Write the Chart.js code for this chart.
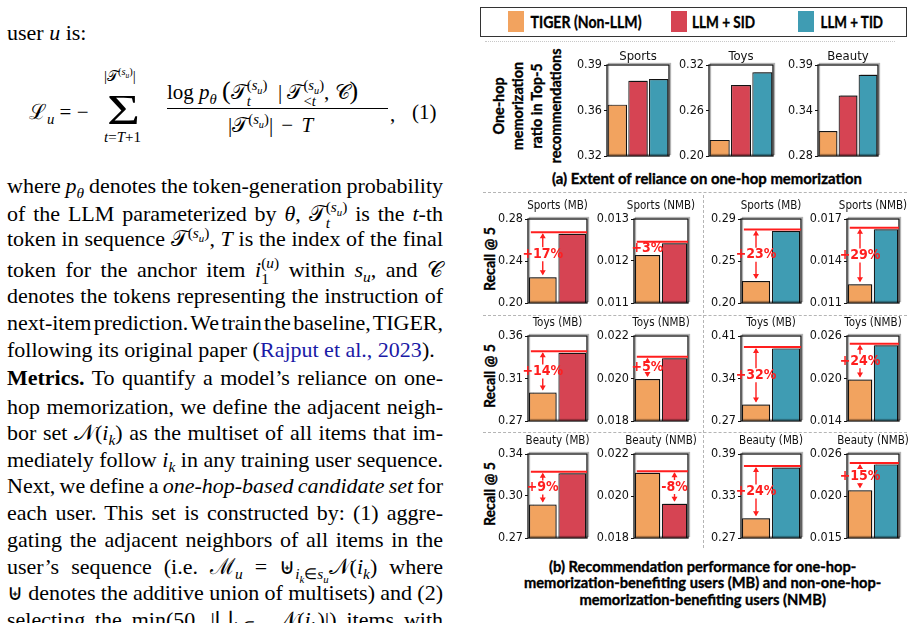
<!DOCTYPE html>
<html>
<head>
<meta charset="utf-8">
<script src="https://cdn.jsdelivr.net/npm/chart.js@4.4.0/dist/chart.umd.min.js"></script>
<style>
  body { margin: 0; width: 917px; height: 623px; overflow: hidden; background: #fff; position: relative; font-family: 'Liberation Serif', 'Times New Roman', serif; color: #000; }
  .ln { position: absolute; left: 7px; width: 436px; font-size: 22px; line-height: 26px; height: 26px; white-space: nowrap; }
  sub, sup { line-height: 0; font-size: 70%; }
  .eq { position: absolute; font-size: 21px; line-height: 26px; white-space: nowrap; }
  .st { display: inline-block; vertical-align: -0.45em; font-size: 70%; line-height: 1.05; text-align: left; }
  .st span { display: block; }
  .cite { color: #1a1aa6; }
  .fit { position: absolute; display: inline-block; white-space: nowrap; font-family: Lato, 'Open Sans', sans-serif; font-weight: bold; color: #000; text-align: center; -webkit-text-stroke: 0.35px #000; }
  .dash { position: absolute; border-top: 1px dashed #b5b5b5; height: 0; }
  .vdash { position: absolute; border-left: 1px dashed #b5b5b5; width: 0; }
  canvas.panel { position: absolute; }
  .sw { position: absolute; width: 16px; height: 21px; }
</style>
</head>
<body>

<!-- left text column -->
<div class="ln last" style="top:20px">user <i>u</i> is:</div>

<div class="eq" style="left:29px; top:99px">ℒ<sub><i>u</i></sub> = −</div>
<div class="eq" style="left:107px; top:89px; font-size:42px; line-height:42px; transform:scaleX(1.35); transform-origin:left center">Σ</div>
<div class="eq" style="left:104px; top:63px; font-size:15px">|𝒯<sup>(<i>s<sub>u</sub></i>)</sup>|</div>
<div class="eq" style="left:104px; top:124px; font-size:15px"><i>t</i>=<i>T</i>+1</div>
<div class="eq" style="left:167px; top:78px">log <i>p</i><sub><i>θ</i></sub> <span style="font-size:26px">(</span>𝒯<span class="st"><span>(<i>s<sub>u</sub></i>)</span><span><i>t</i></span></span>&nbsp; | 𝒯<span class="st"><span>(<i>s<sub>u</sub></i>)</span><span>&lt;<i>t</i></span></span>, 𝒞<span style="font-size:26px">)</span></div>
<div style="position:absolute; left:167px; top:108px; width:221px; height:1px; background:#000"></div>
<div class="eq" style="left:228px; top:112px; word-spacing:3px">|𝒯<sup>(<i>s<sub>u</sub></i>)</sup>| − <i>T</i></div>
<div class="eq" style="left:390px; top:101px">,</div>
<div class="eq" style="left:412px; top:99px">(1)</div>

<div class="ln" style="top:173px">where <i>p</i><sub><i>θ</i></sub> denotes the token-generation probability</div>
<div class="ln" style="top:199px">of the LLM parameterized by <i>θ</i>, 𝒯<span class="st"><span>(<i>s<sub>u</sub></i>)</span><span><i>t</i></span></span> is the <i>t</i>-th</div>
<div class="ln" style="top:226px">token in sequence 𝒯<sup>(<i>s<sub>u</sub></i>)</sup>, <i>T</i> is the index of the final</div>
<div class="ln" style="top:255px">token for the anchor item <i>i</i><span class="st"><span>(<i>u</i>)</span><span>1</span></span> within <i>s<sub>u</sub></i>, and 𝒞</div>
<div class="ln" style="top:283px">denotes the tokens representing the instruction of</div>
<div class="ln" style="top:310px">next-item prediction. We train the baseline, TIGER,</div>
<div class="ln last" style="top:337px">following its original paper (<span class="cite">Rajput et al., 2023</span>).</div>
<div class="ln" style="top:365px"><b>Metrics.</b> To quantify a model’s reliance on one-</div>
<div class="ln" style="top:394px">hop memorization, we define the adjacent neigh-</div>
<div class="ln" style="top:420px">bor set 𝒩(<i>i<sub>k</sub></i>) as the multiset of all items that im-</div>
<div class="ln" style="top:447px">mediately follow <i>i<sub>k</sub></i> in any training user sequence.</div>
<div class="ln" style="top:473px">Next, we define a <i>one-hop-based candidate set</i> for</div>
<div class="ln" style="top:500px">each user. This set is constructed by: (1) aggre-</div>
<div class="ln" style="top:527px">gating the adjacent neighbors of all items in the</div>
<div class="ln" style="top:554px">user’s sequence (i.e. ℳ<sub><i>u</i></sub> = ⊎<sub><i>i<sub>k</sub></i>∈<i>s<sub>u</sub></i></sub>𝒩(<i>i<sub>k</sub></i>) where</div>
<div class="ln" style="top:580px">⊎ denotes the additive union of multisets) and (2)</div>
<div class="ln" style="top:607px">selecting the min(50, |⋃<sub><i>i<sub>k</sub></i>∈<i>s<sub>u</sub></i></sub> 𝒩(<i>i<sub>k</sub></i>)|) items with</div>

<!-- figure frame pieces -->
<div style="position:absolute; left:480px; top:7px; width:425px; height:28px; border:1.5px solid #333"></div>
<div class="sw" style="left:508px; top:11px; background:#F2A35F"></div>
<div class="fit" data-cx="585.5" data-cy="21" data-w="111" style="font-size:17px">TIGER (Non-LLM)</div>
<div class="sw" style="left:671px; top:11px; background:#D64453"></div>
<div class="fit" data-cx="723.5" data-cy="21" data-w="63" style="font-size:17px">LLM + SID</div>
<div class="sw" style="left:798px; top:11px; background:#3F9CB3"></div>
<div class="fit" data-cx="851.5" data-cy="21" data-w="63" style="font-size:17px">LLM + TID</div>
<div class="dash" style="left:485px; top:41px; width:410px; border-top:1px dotted #c8c8c8"></div>

<div class="fit" data-cx="526.5" data-cy="106" data-w="115" data-rot="1" style="font-size:15px; line-height:19px">One-hop<br>memorization<br>ratio in Top-5<br>recommendations</div>
<div class="fit" data-cx="707" data-cy="178" data-w="310" style="font-size:14.5px">(a) Extent of reliance on one-hop memorization</div>
<div class="dash" style="left:483px; top:192px; width:424px"></div>
<div class="dash" style="left:483px; top:315px; width:424px"></div>
<div class="dash" style="left:483px; top:432px; width:424px"></div>
<div class="vdash" style="left:703px; top:195px; height:353px"></div>

<div class="fit" data-cx="489" data-cy="259" data-w="64" data-rot="1" style="font-size:15px">Recall @ 5</div>
<div class="fit" data-cx="489" data-cy="376" data-w="64" data-rot="1" style="font-size:15px">Recall @ 5</div>
<div class="fit" data-cx="489" data-cy="494" data-w="64" data-rot="1" style="font-size:15px">Recall @ 5</div>

<div class="fit" data-cx="702" data-cy="583.5" data-w="357" style="font-size:14.5px; line-height:16.5px">(b) Recommendation performance for one-hop-<br>memorization-benefiting users (MB) and non-one-hop-<br>memorization-benefiting users (NMB)</div>

<script>
// (a) one-hop memorization ratio in top-5 recommendations
const datasets = ['Sports', 'Toys', 'Beauty'];
const methods = ['TIGER (Non-LLM)', 'LLM + SID', 'LLM + TID'];
const oneHopTiger = [0.3595, 0.2212, 0.3103];
const oneHopSid = [0.3779, 0.2935, 0.3532];
const oneHopTid = [0.3792, 0.3103, 0.3783];
const oneHopTicks = [['0.32', '0.36', '0.39'], ['0.20', '0.26', '0.32'], ['0.28', '0.34', '0.39']];

// (b) Recall@5, per dataset: [MB, NMB]
const userGroups = ['MB', 'NMB'];
const recallTigerVsSid = [[0.2245, 0.01214], [0.3001, 0.01998], [0.2979, 0.02111]];
const recallSid = [[0.2660, 0.01242], [0.3423, 0.02095], [0.3240, 0.01963]];
const gainSid = [['+17%', '+3%'], ['+14%', '+5%'], ['+9%', '-8%']];
const ticksSid = [
    [['0.20', '0.24', '0.28'], ['0.011', '0.012', '0.013']],
    [['0.27', '0.31', '0.36'], ['0.018', '0.020', '0.022']],
    [['0.27', '0.30', '0.34'], ['0.018', '0.020', '0.022']]
];
const recallTigerVsTid = [[0.2236, 0.01234], [0.2970, 0.01986], [0.2982, 0.02125]];
const recallTid = [[0.2771, 0.01626], [0.3896, 0.02468], [0.3708, 0.02464]];
const gainTid = [['+23%', '+29%'], ['+32%', '+24%'], ['+24%', '+15%']];
const ticksTid = [
    [['0.20', '0.25', '0.29'], ['0.011', '0.014', '0.017']],
    [['0.27', '0.34', '0.41'], ['0.014', '0.020', '0.026']],
    [['0.27', '0.33', '0.39'], ['0.015', '0.020', '0.026']]
];

// justify the text lines by hand (word spacing may shrink, like LaTeX glue)
document.querySelectorAll('.ln').forEach(el => {
    el.innerHTML = '<span>' + el.innerHTML + '</span>';
    const w = el.firstChild.getBoundingClientRect().width;
    const gaps = (el.textContent.match(/ /g) || []).length;
    if (!el.classList.contains('last') && gaps) {
        el.style.wordSpacing = ((436 - w) / gaps) + 'px';
    } else if (w > 436) {
        el.style.wordSpacing = ((436 - w) / gaps) + 'px';
    }
});

// squeeze the bold labels to the widths they have in the figure
document.querySelectorAll('.fit').forEach(el => {
    const w = el.offsetWidth, h = el.offsetHeight;
    el.style.left = (+el.dataset.cx - w / 2) + 'px';
    el.style.top = (+el.dataset.cy - h / 2) + 'px';
    el.style.transform = (el.dataset.rot ? 'rotate(-90deg) ' : '') + 'scaleX(' + (+el.dataset.w / w) + ')';
});

const ORANGE = '#F2A35F', RED = '#D64453', TEAL = '#3F9CB3', MARK = '#FF1E1E';
const TICK_FONT = 'DejaVu Sans Condensed, DejaVu Sans, sans-serif';
const LABEL_FONT = 'Liberation Sans Narrow, DejaVu Sans Condensed, sans-serif';
const TICK_W = 44, PAD_T = 24, PAD_R = 14, PAD_B = 10;

// frame, title and the red gain marker for each small panel
const panelDeco = {
    id: 'panelDeco',
    beforeDatasetsDraw(chart) {
        const ctx = chart.ctx;
        ctx.save();
        ctx.shadowColor = 'rgba(0,0,0,0.35)';
        ctx.shadowOffsetX = 1.5;
        ctx.shadowOffsetY = -1.5;
        ctx.shadowBlur = 1;
    },
    afterDatasetsDraw(chart, args, o) {
        const ctx = chart.ctx;
        ctx.restore();
        const a = chart.chartArea;

        ctx.save();
        ctx.shadowColor = 'rgba(0,0,0,0.3)';
        ctx.shadowOffsetX = 1.5;
        ctx.shadowOffsetY = -1.5;
        ctx.strokeStyle = '#111';
        ctx.lineWidth = 1.3;
        ctx.strokeRect(a.left, a.top, a.width, a.height);
        ctx.restore();

        ctx.save();
        ctx.fillStyle = '#111';
        ctx.font = o.titleSize + 'px ' + TICK_FONT;
        ctx.textAlign = 'center';
        ctx.textBaseline = 'middle';
        ctx.fillText(o.title, (a.left + a.right) / 2, a.top - o.titleGap);
        ctx.restore();

        if (!o.gain) return;
        const vals = chart.data.datasets[0].data;
        const meta = chart.getDatasetMeta(0);
        const y = chart.scales.y;
        const hi = vals[0] > vals[1] ? 0 : 1, lo = 1 - hi;
        const yHi = y.getPixelForValue(vals[hi]) - 1.5;
        const yLo = y.getPixelForValue(vals[lo]) - 1;
        const first = meta.data[0];
        const ax = meta.data[lo].x;
        const mid = (yHi + yLo) / 2;

        ctx.save();
        ctx.strokeStyle = MARK;
        ctx.fillStyle = MARK;
        ctx.lineWidth = 2;
        ctx.beginPath();
        ctx.moveTo(first.x - first.width / 2 + 2, yHi);
        ctx.lineTo(a.right, yHi);
        ctx.stroke();

        if (yLo - yHi > 18) {
            ctx.lineWidth = 1.4;
            ctx.beginPath();
            ctx.moveTo(ax, yHi + 2);
            ctx.lineTo(ax, mid - 7);
            ctx.moveTo(ax, mid + 7);
            ctx.lineTo(ax, yLo - 2);
            ctx.stroke();
            ctx.beginPath();
            ctx.moveTo(ax, yHi + 1); ctx.lineTo(ax - 3, yHi + 6); ctx.lineTo(ax + 3, yHi + 6); ctx.closePath();
            ctx.moveTo(ax, yLo - 1); ctx.lineTo(ax - 3, yLo - 6); ctx.lineTo(ax + 3, yLo - 6); ctx.closePath();
            ctx.fill();
        }
        ctx.font = 'bold 14px ' + LABEL_FONT;
        ctx.textAlign = 'center';
        ctx.textBaseline = 'middle';
        ctx.fillText(o.gain, ax, mid);
        ctx.restore();
    }
};

function addPanel(box, names, values, colors, tickLabels, deco) {
    const c = document.createElement('canvas');
    c.className = 'panel';
    c.width = box[1] - box[0] + TICK_W + PAD_R;
    c.height = box[3] - box[2] + PAD_T + PAD_B;
    c.style.left = (box[0] - TICK_W) + 'px';
    c.style.top = (box[2] - PAD_T) + 'px';
    document.body.appendChild(c);

    const lo = parseFloat(tickLabels[0]), hi = parseFloat(tickLabels[2]);
    const tickVals = [lo, (lo + hi) / 2, hi];

    new Chart(c, {
        type: 'bar',
        data: {
            labels: names,
            datasets: [{
                data: values,
                backgroundColor: colors,
                borderColor: '#1a1a1a',
                borderWidth: 1.2,
                borderSkipped: false,
                categoryPercentage: 0.94,
                barPercentage: 1
            }]
        },
        options: {
            responsive: false,
            animation: false,
            devicePixelRatio: 1,
            layout: { padding: { top: PAD_T, right: PAD_R, bottom: PAD_B, left: 0 } },
            plugins: {
                legend: { display: false },
                tooltip: { enabled: false },
                panelDeco: deco
            },
            scales: {
                x: { display: false },
                y: {
                    min: lo,
                    max: hi,
                    afterFit: s => { s.width = TICK_W; },
                    afterBuildTicks: s => { s.ticks = tickVals.map(v => ({ value: v })); },
                    ticks: {
                        callback: (v, i) => tickLabels[i],
                        font: { family: TICK_FONT, size: 12.5 },
                        color: '#111',
                        padding: 2
                    },
                    grid: { drawOnChartArea: false, drawTicks: true, tickLength: 3, color: '#111' },
                    border: { display: false }
                }
            }
        },
        plugins: [panelDeco]
    });
}

// (a) row
const topBoxes = [[607, 669], [709, 773], [818, 878]];
datasets.forEach((name, i) => {
    addPanel([topBoxes[i][0], topBoxes[i][1], 65, 156], methods,
        [oneHopTiger[i], oneHopSid[i], oneHopTid[i]], [ORANGE, RED, TEAL],
        oneHopTicks[i], { title: name, titleSize: 13, titleGap: 8 });
});

// (b) grid: left half TIGER vs SID, right half TIGER vs TID
const colX = [[528, 587], [634, 688], [741, 801], [847, 899]];
const rowY = [[219, 303], [336, 421], [454, 538]];
datasets.forEach((name, r) => {
    userGroups.forEach((g, k) => {
        addPanel([colX[k][0], colX[k][1], rowY[r][0], rowY[r][1]], [methods[0], methods[1]],
            [recallTigerVsSid[r][k], recallSid[r][k]], [ORANGE, RED],
            ticksSid[r][k], { title: name + ' (' + g + ')', titleSize: 11.5, titleGap: 13, gain: gainSid[r][k] });
        addPanel([colX[k + 2][0], colX[k + 2][1], rowY[r][0], rowY[r][1]], [methods[0], methods[2]],
            [recallTigerVsTid[r][k], recallTid[r][k]], [ORANGE, TEAL],
            ticksTid[r][k], { title: name + ' (' + g + ')', titleSize: 11.5, titleGap: 13, gain: gainTid[r][k] });
    });
});
</script>
</body>
</html>
